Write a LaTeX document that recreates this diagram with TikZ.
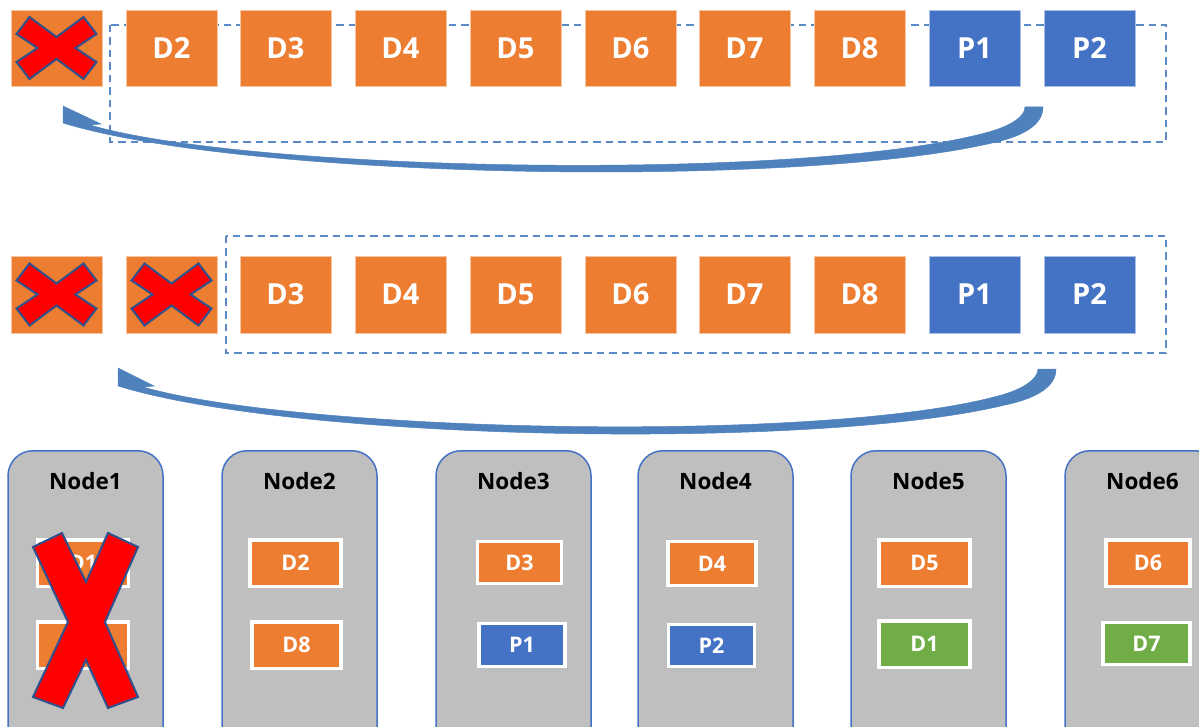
\documentclass[tikz,border=0pt]{standalone}
\usepackage{fontspec}
\setmainfont{Open Sans}
\definecolor{dorange}{HTML}{ED7D31}
\definecolor{dblue}{HTML}{4472C4}
\definecolor{dgreen}{HTML}{70AD47}
\definecolor{dgrey}{HTML}{BFBFBF}
\definecolor{arrowblue}{HTML}{4F81BD}
\definecolor{dashblue}{HTML}{5A8AC6}
\definecolor{xline}{HTML}{2F528F}
\definecolor{xred}{HTML}{FF0000}
\begin{document}
\begin{tikzpicture}[x=1pt,y=-1pt,
  sq/.style={rectangle, minimum width=91pt, minimum height=76pt, inner sep=0pt,
    text=white, font=\fontsize{29}{29}\selectfont\bfseries, draw=white!55!#1, line width=0.8pt, fill=#1},
  dashbox/.style={draw=dashblue, line width=1.6pt, dash pattern=on 7.5pt off 5pt},
  bignode/.style={rectangle, rounded corners=25pt, fill=dgrey, draw=dblue, line width=1.5pt,
    minimum width=155pt, minimum height=330pt, inner sep=0pt, anchor=north},
  nlabel/.style={font=\fontsize{22.5}{22.5}\selectfont\bfseries, text=black, inner sep=0pt},
  ib/.style={rectangle, draw=white, line width=3.5pt, fill=#1, text=white, inner sep=0pt,
    minimum height=46.5pt, font=\fontsize{21.5}{21.5}\selectfont\bfseries},
  xstyle/.style={fill=xred, draw=xline, line width=2pt, line join=miter},
  curvearrow/.style={fill=arrowblue, draw=arrowblue, line width=0.5pt},
  xmark/.pic={\path[xstyle] (-40,-14) -- (-27,-31) -- (0,-11) -- (27,-31) -- (40,-14) -- (19,0)
      -- (40,14) -- (27,31) -- (0,11) -- (-27,31) -- (-40,14) -- (-19,0) -- cycle;}
]
\useasboundingbox (0,0) rectangle (1199,727);
\clip (0,0) rectangle (1199,727);

% ---------- row 1 ----------
\draw[dashbox] (110,25) rectangle (1166,142);
\foreach \x/\t/\c [count=\i] in {56.5//dorange,171.5/D2/dorange,285.5/D3/dorange,400.5/D4/dorange,
  515.5/D5/dorange,630.5/D6/dorange,744.5/D7/dorange,859.5/D8/dorange,974.5/P1/dblue,1089.5/P2/dblue}
  \node[sq=\c] (a\i) at (\x,48) {\t};
\pic at (a1.center) {xmark};

\path[curvearrow] (63,106) -- (101,124) -- (90,125)
  .. controls (250,172) and (800,182) .. (985,133)
  .. controls (1012,126) and (1025,116) .. (1025,107)
  -- (1043,107)
  .. controls (1043,124) and (1025,136) .. (992,143)
  .. controls (800,188) and (250,180) .. (63,123) -- cycle;

% ---------- row 2 ----------
\draw[dashbox] (226,236) rectangle (1166,353);
\foreach \x/\t/\c [count=\i] in {56.5//dorange,171.5//dorange,285.5/D3/dorange,400.5/D4/dorange,
  515.5/D5/dorange,630.5/D6/dorange,744.5/D7/dorange,859.5/D8/dorange,974.5/P1/dblue,1089.5/P2/dblue}
  \node[sq=\c, minimum height=77pt] (b\i) at (\x,294.5) {\t};
\pic at (b1.center) {xmark};
\pic at (b2.center) {xmark};

\path[curvearrow] (118,368) -- (154,386) -- (143,387)
  .. controls (300,432) and (820,444) .. (998,396)
  .. controls (1025,389) and (1038,378) .. (1038,369)
  -- (1056,369)
  .. controls (1056,386) and (1038,398) .. (1005,405)
  .. controls (820,450) and (300,442) .. (118,386) -- cycle;

% ---------- bottom nodes ----------
\foreach \x/\t [count=\i] in {85.5/Node1,299.5/Node2,513.5/Node3,715.5/Node4,928.5/Node5,1142.5/Node6}{
  \node[bignode] (n\i) at (\x,450) {};
  \node[nlabel] (nl\i) at (\x,481) {\t};
}
\node[ib=dorange, minimum width=91pt] (n1a) at (83,563) {D1};
\node[ib=dorange, minimum width=91pt] (n1b) at (83,645) {D7};
\node[ib=dorange, minimum width=91pt] (n2a) at (295.5,563) {D2};
\node[ib=dorange, minimum width=89pt] (n2b) at (296.5,645) {D8};
\node[ib=dorange, minimum width=84pt, minimum height=42pt] (n3a) at (519.5,562.5) {D3};
\node[ib=dblue, minimum width=86pt, minimum height=43pt] (n3b) at (522,645) {P1};
\node[ib=dorange, minimum width=88pt, minimum height=44pt] (n4a) at (712,563.5) {D4};
\node[ib=dblue, minimum width=86pt, minimum height=42pt] (n4b) at (711.5,645.5) {P2};
\node[ib=dorange, minimum width=91pt] (n5a) at (924.5,563) {D5};
\node[ib=dgreen, minimum width=91pt] (n5b) at (924.5,644) {D1};
\node[ib=dorange, minimum width=84pt] (n6a) at (1148,563) {D6};
\node[ib=dgreen, minimum width=87pt, minimum height=42pt] (n6b) at (1146.5,643.5) {D7};

% big cross over Node1
\path[xstyle] (33,547) -- (62,533) -- (86,582) -- (108,533) -- (138,547) -- (105,622)
  -- (138,697) -- (108,708) -- (86,660) -- (63,708) -- (33,697) -- (68,622) -- cycle;
\end{tikzpicture}
\end{document}
